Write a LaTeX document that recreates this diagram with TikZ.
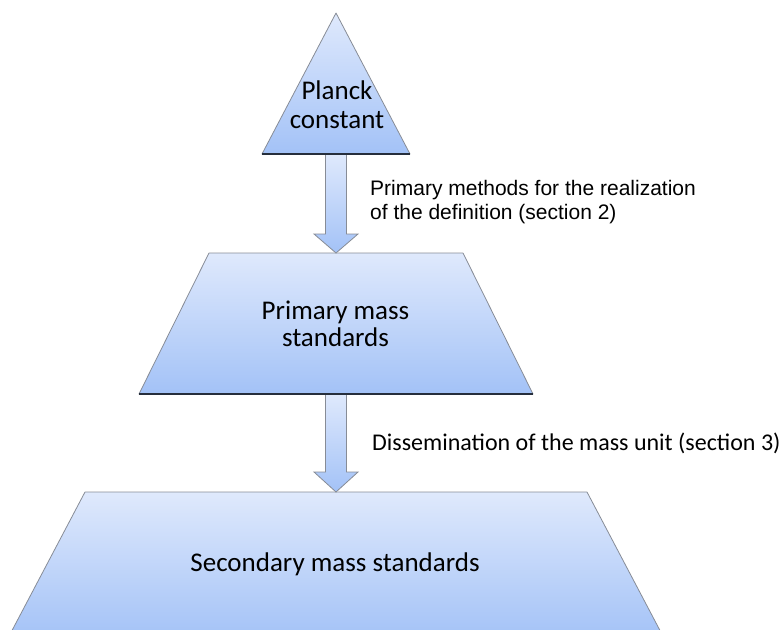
\documentclass[tikz,border=0pt]{standalone}
\usepackage{fontspec}
\setmainfont{Carlito}
\newfontfamily\arialfont{Liberation Sans}
\usetikzlibrary{calc}
\definecolor{topblue}{RGB}{223,233,252}
\definecolor{botblue}{RGB}{163,194,247}
\definecolor{edgegray}{RGB}{135,140,150}
\definecolor{baseedge}{RGB}{38,46,60}
\begin{document}
\begin{tikzpicture}[x=1pt,y=-1pt,
  tier/.style={top color=topblue,bottom color=botblue,draw=edgegray,line width=0.8pt,line join=round},
  baseline edge/.style={draw=baseedge,line width=1.3pt},
  blockarrow/.style={top color=topblue,bottom color=botblue,draw=edgegray,line width=0.8pt,line join=miter},
  tiertext/.style={align=center,inner sep=0pt,anchor=base,text=black},
  labeltext/.style={inner sep=0pt,anchor=base west,align=left,text=black}]
\clip (0,0) rectangle (781,629);
% tier geometry
\coordinate (triapex) at (336,13);
\coordinate (tribl) at (262,154);
\coordinate (tribr) at (410,154);
\coordinate (tribase) at (336,154);
\coordinate (pmtl) at (209,253);
\coordinate (pmtr) at (463,253);
\coordinate (pmbl) at (139,394);
\coordinate (pmbr) at (533,394);
\coordinate (pmtop) at (336,253);
\coordinate (pmbase) at (336,394);
\coordinate (smtl) at (85,492);
\coordinate (smtr) at (587,492);
\coordinate (smbl) at (7,640);
\coordinate (smbr) at (665,640);
\coordinate (smtop) at (336,492);
% tiers
\path[tier] (triapex) -- (tribr) -- (tribl) -- cycle;
\path[tier] (pmtl) -- (pmtr) -- (pmbr) -- (pmbl) -- cycle;
\path[tier] (smtl) -- (smtr) -- (smbr) -- (smbl) -- cycle;
% block arrows
\path[blockarrow] ($(tribase)+(-10.5,0)$) -- ($(pmtop)+(-10.5,-19)$) -- ($(pmtop)+(-22,-19)$)
  -- (pmtop) -- ($(pmtop)+(22,-19)$) -- ($(pmtop)+(10.5,-19)$) -- ($(tribase)+(10.5,0)$) -- cycle;
\path[blockarrow] ($(pmbase)+(-10.5,0)$) -- ($(smtop)+(-10.5,-20)$) -- ($(smtop)+(-22,-20)$)
  -- (smtop) -- ($(smtop)+(22,-20)$) -- ($(smtop)+(10.5,-20)$) -- ($(pmbase)+(10.5,0)$) -- cycle;
% base edges
\draw[baseline edge] (tribl) -- (tribr);
\draw[baseline edge] (pmbl) -- (pmbr);
% texts (anchor base = baseline of last line)
\node[tiertext,font=\fontsize{27}{29.3}\selectfont] (planck) at (337,128.3) {Planck\\constant};
\node[tiertext,font=\fontsize{27}{27.4}\selectfont] (primary) at (335.5,346.7) {Primary mass\\standards};
\node[tiertext,font=\fontsize{27}{32}\selectfont] (secondary) at (335,571.7) {Secondary mass standards};
\node[labeltext,font=\arialfont\fontsize{21}{24}\selectfont] (methods) at (370,219) {Primary methods for the realization\\of the definition (section 2)};
\node[labeltext,font=\fontsize{24}{28}\selectfont] (dissem) at (372,450) {Dissemination of the mass unit (section 3)};
\end{tikzpicture}
\end{document}
